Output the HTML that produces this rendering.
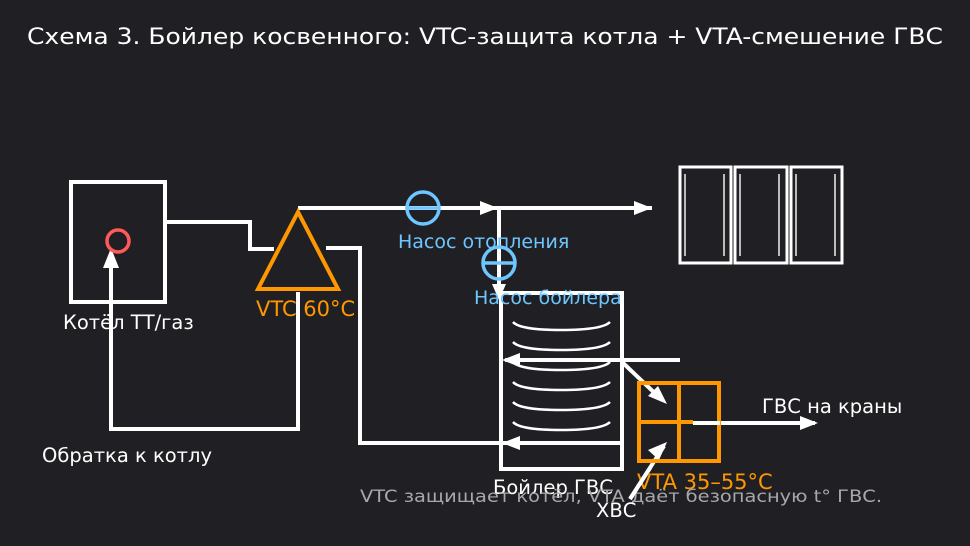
<!DOCTYPE html>
<html><head><meta charset="utf-8"><style>
html,body{margin:0;padding:0;background:#202024;}
svg{display:block;font-family:"DejaVu Sans","Liberation Sans",sans-serif;}
</style></head><body>
<svg width="970" height="546" viewBox="0 0 970 546" xmlns="http://www.w3.org/2000/svg">
<rect width="970" height="546" fill="#202024"/>
<text x="485" y="44" text-anchor="middle" fill="#fff" font-size="22" textLength="916" lengthAdjust="spacingAndGlyphs">Схема 3. Бойлер косвенного: VTC-защита котла + VTA-смешение ГВС</text>

<g fill="none" stroke="#fff" stroke-width="4">
<rect x="71" y="182" width="94" height="120"/>
<polyline points="165,222 250,222 250,249 274,249"/>
<polyline points="111,262 111,429 298,429 298,292"/>
<polyline points="298,208 652,208"/>
<polyline points="326,248 360,248 360,443 620,443"/>
<line x1="499" y1="208" x2="499" y2="292"/>
<rect x="501" y="293" width="121" height="176"/>
<line x1="680" y1="360" x2="505" y2="360"/>
<line x1="622" y1="362" x2="662" y2="400"/>
<line x1="693" y1="423" x2="815" y2="423"/>
<line x1="630" y1="499" x2="664" y2="446"/>
</g>
<g fill="none" stroke="#fff" stroke-width="2.5">
<path d="M513,322 Q520,330 561,330 Q602,330 610,322"/>
<path d="M513,342 Q520,350 561,350 Q602,350 610,342"/>
<path d="M513,362 Q520,370 561,370 Q602,370 610,362"/>
<path d="M513,382 Q520,390 561,390 Q602,390 610,382"/>
<path d="M513,402 Q520,410 561,410 Q602,410 610,402"/>
<path d="M513,422 Q520,430 561,430 Q602,430 610,422"/>
</g>
<g fill="#fff">
<polygon points="111,248 103,268 119,268"/>
<polygon points="498,208 480,201 480,215"/>
<polygon points="652,208 634,201 634,215"/>
<polygon points="499,300 492,284 506,284"/>
<polygon points="502,360 520,353 520,367"/>
<polygon points="502,443 520,436 520,450"/>
<polygon points="667,404 648,396 658,386"/>
<polygon points="818,423 800,416 800,430"/>
<polygon points="667,442 648,450 659,460"/>
</g>
<circle cx="118" cy="241" r="11" fill="none" stroke="#ff5a5a" stroke-width="3.5"/>
<polygon points="298,212 258,289 338,289" fill="none" stroke="#ff9800" stroke-width="4"/>
<g fill="none" stroke="#6ec6ff" stroke-width="3.5">
<circle cx="423" cy="208" r="16"/><line x1="407" y1="208" x2="439" y2="208"/>
<circle cx="499" cy="263" r="16"/><line x1="483" y1="263" x2="515" y2="263"/>
</g>
<g fill="none" stroke="#ff9800" stroke-width="4">
<rect x="639" y="383" width="80" height="78"/>
<line x1="679" y1="383" x2="679" y2="461"/>
<line x1="639" y1="422" x2="693" y2="422"/>
</g>
<line x1="693" y1="423" x2="720" y2="423" stroke="#fff" stroke-width="4"/>
<g fill="none" stroke="#fff">
<rect x="680" y="167" width="51" height="96" stroke-width="3"/>
<rect x="735" y="167" width="52" height="96" stroke-width="3"/>
<rect x="791" y="167" width="51" height="96" stroke-width="3"/>
<g stroke-width="2" stroke="#bbb">
<line x1="685" y1="174" x2="685" y2="256"/><line x1="740" y1="174" x2="740" y2="256"/><line x1="796" y1="174" x2="796" y2="256"/>
<line x1="724" y1="174" x2="724" y2="256"/><line x1="779" y1="174" x2="779" y2="256"/><line x1="835" y1="174" x2="835" y2="256"/>
</g>
</g>

<g font-size="19.5">
<text x="63" y="329" fill="#fff">Котёл ТТ/газ</text>
<text x="256" y="316" fill="#ff9800" font-size="21">VTC 60°C</text>
<text x="42" y="462" fill="#fff">Обратка к котлу</text>
<text x="398" y="248" fill="#6ec6ff" font-size="19">Насос отопления</text>
<text x="474" y="304" fill="#6ec6ff" font-size="19">Насос бойлера</text>
<text x="762" y="413" fill="#fff">ГВС на краны</text>
<text x="493" y="494" fill="#fff">Бойлер ГВС</text>
<text x="637" y="489" fill="#ff9800" font-size="21">VTA 35–55°C</text>
<text x="360" y="502" fill="#a8a8ac" font-size="17" textLength="522" lengthAdjust="spacingAndGlyphs">VTC защищает котёл, VTA даёт безопасную t° ГВС.</text>
<text x="596" y="517" fill="#fff">ХВС</text>
</g>
<line x1="630" y1="499" x2="650" y2="468" stroke="#fff" stroke-width="4"/>
</svg>
</body></html>
